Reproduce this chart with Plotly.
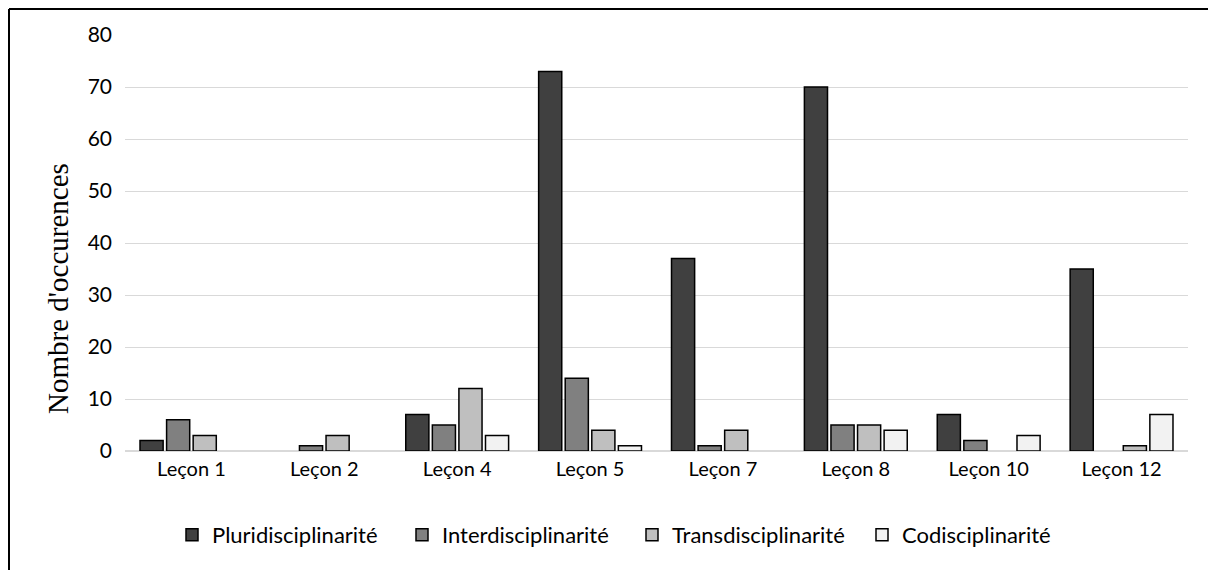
import plotly.graph_objects as go

categories = ["Leçon 1", "Leçon 2", "Leçon 4", "Leçon 5", "Leçon 7", "Leçon 8", "Leçon 10", "Leçon 12"]
pluri = [2, 0, 7, 73, 37, 70, 7, 35]
inter = [6, 1, 5, 14, 1, 5, 2, 0]
trans = [3, 3, 12, 4, 4, 5, 0, 1]
codis = [0, 0, 3, 1, 0, 4, 3, 7]

series = [
    ("Pluridisciplinarité", pluri, "#404040"),
    ("Interdisciplinarité", inter, "#808080"),
    ("Transdisciplinarité", trans, "#bfbfbf"),
    ("Codisciplinarité", codis, "#f2f2f2"),
]

fig = go.Figure()
for name, vals, col in series:
    fig.add_trace(go.Bar(
        x=categories, y=[v if v else None for v in vals], name=name,
        marker=dict(color=col, line=dict(color="#000000", width=1.5)),
    ))

# page has an 8px body margin, so figure is 1208x562 placed at (8,8)
W, H = 1208, 562
L, R, T, B = 117, 28, 27, 119
pw, ph = W - L - R, H - T - B

fig.update_layout(
    width=W, height=H,
    margin=dict(l=L, r=R, t=T, b=B),
    paper_bgcolor="white", plot_bgcolor="white",
    barmode="group", bargap=0.2, bargroupgap=0.13,
    font=dict(family="Lato, Open Sans, sans-serif", size=20, color="#000000"),
    legend=dict(orientation="h", x=(164 - L) / pw, xanchor="left",
                y=(H - B - (535 - 8)) / ph, yanchor="middle",
                font=dict(size=22), itemwidth=30, entrywidth=185,
                traceorder="normal"),
    showlegend=True,
)
fig.update_xaxes(showgrid=False, showline=True, linecolor="#d9d9d9", linewidth=1,
                 ticks="", tickfont=dict(size=20))
fig.update_yaxes(range=[0, 80], dtick=10, showgrid=True, gridcolor="#d9d9d9", gridwidth=1,
                 zeroline=True, zerolinecolor="#d9d9d9", showline=False, ticks="",
                 tickfont=dict(size=21), ticklabelstandoff=12)

# y-axis title (placed lower than the plot centre, as in the reference)
fig.add_annotation(text="Nombre d'occurences", textangle=-90, showarrow=False,
                   xref="paper", yref="paper",
                   x=(58 - 8 - L) / pw, y=(H - B - (289 - 8)) / ph,
                   xanchor="center", yanchor="middle",
                   font=dict(family="Liberation Serif, Times New Roman, serif", size=29,
                             color="#000000"))

# outer frame (top and left edges visible)
x0 = (1 - L) / pw
ytop = (H - B - 1) / ph
fig.add_shape(type="line", xref="paper", yref="paper", x0=x0, x1=(W + 10 - L) / pw,
              y0=ytop, y1=ytop, line=dict(color="#000000", width=2))
fig.add_shape(type="line", xref="paper", yref="paper", x0=x0, x1=x0,
              y0=ytop, y1=-(B + 10) / ph, line=dict(color="#000000", width=2))

fig.write_html("out.html")
